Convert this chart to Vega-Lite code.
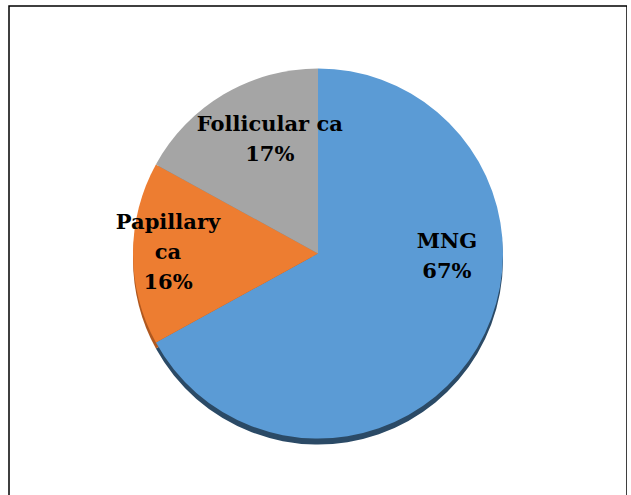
{
  "$schema": "https://vega.github.io/schema/vega-lite/v6.json",
  "autosize": "none",
  "width": 618,
  "height": 495,
  "padding": {"left": 9, "top": 6, "right": 0, "bottom": 0},
  "background": "#ffffff",
  "view": {"stroke": "#000000", "strokeWidth": 1.5},
  "config": {"view": {"stroke": "#000000", "strokeWidth": 1.5}},
  "data": {
    "values": [
      {"category": "MNG", "value": 67, "label": "MNG\n67%"},
      {"category": "Papillary ca", "value": 16, "label": "Papillary\nca\n16%"},
      {"category": "Follicular ca", "value": 17, "label": "Follicular ca\n17%"}
    ]
  },
  "transform": [
    {"window": [{"op": "row_number", "as": "idx"}]},
    {"stack": "value", "groupby": [], "sort": [{"field": "idx", "order": "ascending"}], "as": ["v0", "v1"]},
    {"calculate": "(datum.v0 + datum.v1) / 2", "as": "mid"}
  ],
  "resolve": {"scale": {"color": "independent"}},
  "layer": [
    {
      "mark": {"type": "arc", "outerRadius": 185, "y": {"expr": "height/2 + 6"}},
      "encoding": {
        "theta": {"field": "v0", "type": "quantitative", "scale": {"domain": [0, 100]}},
        "theta2": {"field": "v1"},
        "color": {
          "field": "category", "type": "nominal", "legend": null,
          "scale": {"domain": ["MNG", "Papillary ca", "Follicular ca"], "range": ["#2B4A66", "#B0581F", "#7A7A7A"]}
        }
      }
    },
    {
      "mark": {"type": "arc", "outerRadius": 185},
      "encoding": {
        "theta": {"field": "v0", "type": "quantitative", "scale": {"domain": [0, 100]}},
        "theta2": {"field": "v1"},
        "color": {
          "field": "category", "type": "nominal", "legend": null,
          "scale": {"domain": ["MNG", "Papillary ca", "Follicular ca"], "range": ["#5B9BD5", "#ED7D31", "#A5A5A5"]}
        }
      }
    },
    {
      "transform": [{"filter": "datum.category === 'MNG'"}],
      "mark": {"type": "text", "radius": 130, "dx": 17, "dy": -78, "lineBreak": "\n", "font": "DejaVu Serif", "fontWeight": "bold", "fontSize": 21, "lineHeight": 30, "color": "#000000", "baseline": "middle", "align": "center"},
      "encoding": {
        "theta": {"field": "mid", "type": "quantitative", "scale": {"domain": [0, 100]}},
        "text": {"field": "label"}
      }
    },
    {
      "transform": [{"filter": "datum.category === 'Papillary ca'"}],
      "mark": {"type": "text", "radius": 130, "dx": -20, "dy": -31, "lineBreak": "\n", "font": "DejaVu Serif", "fontWeight": "bold", "fontSize": 21, "lineHeight": 30, "color": "#000000", "baseline": "middle", "align": "center"},
      "encoding": {
        "theta": {"field": "mid", "type": "quantitative", "scale": {"domain": [0, 100]}},
        "text": {"field": "label"}
      }
    },
    {
      "transform": [{"filter": "datum.category === 'Follicular ca'"}],
      "mark": {"type": "text", "radius": 130, "dx": 18, "dy": -17, "lineBreak": "\n", "font": "DejaVu Serif", "fontWeight": "bold", "fontSize": 21, "lineHeight": 30, "color": "#000000", "baseline": "middle", "align": "center"},
      "encoding": {
        "theta": {"field": "mid", "type": "quantitative", "scale": {"domain": [0, 100]}},
        "text": {"field": "label"}
      }
    }
  ]
}
